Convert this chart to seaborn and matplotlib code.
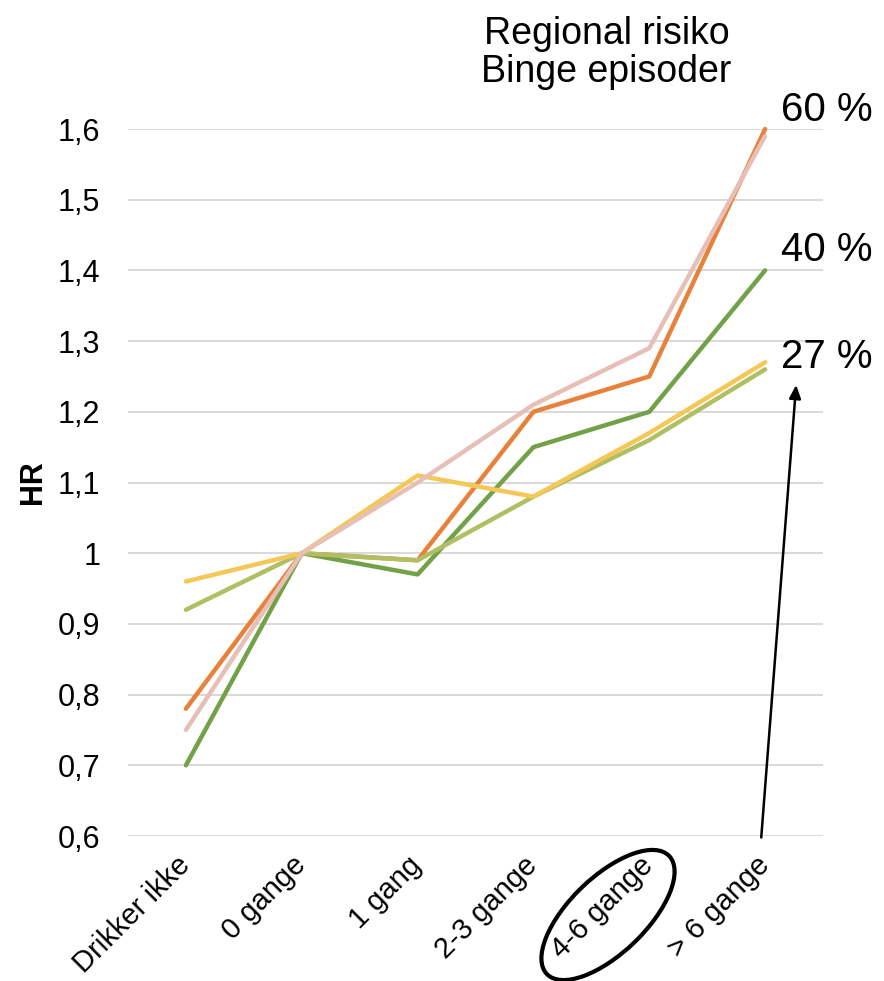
import matplotlib
matplotlib.use('Agg')
import matplotlib.pyplot as plt
import pandas as pd
import seaborn as sns
from matplotlib.patches import Ellipse
from matplotlib.transforms import IdentityTransform

# categories on the x axis
categories = ['Drikker ikke', '0 gange', '1 gang', '2-3 gange', '4-6 gange', '> 6 gange']

# HR values per series
hr_green = [0.70, 1.00, 0.97, 1.15, 1.20, 1.40]
hr_orange = [0.78, 1.00, 0.99, 1.20, 1.25, 1.60]
hr_lightgreen = [0.92, 1.00, 0.99, 1.08, 1.16, 1.26]
hr_yellow = [0.96, 1.00, 1.11, 1.08, 1.17, 1.27]
hr_pink = [0.75, 1.00, 1.10, 1.21, 1.29, 1.59]

series_names = ['Serie A', 'Serie B', 'Serie C', 'Serie D', 'Serie E']
series_values = [hr_green, hr_orange, hr_lightgreen, hr_yellow, hr_pink]
colors = ['#72A147', '#E8823A', '#AFBF62', '#F4C757', '#E6BFB7']

# percent labels at the right end
pct_labels = ['60 %', '40 %', '27 %']
pct_y = [1.627, 1.429, 1.278]

rows = []
for name, vals in zip(series_names, series_values):
    for cat, v in zip(categories, vals):
        rows.append({'kategori': cat, 'HR': v, 'serie': name})
df = pd.DataFrame(rows)

sns.set_style('white')
plt.rcParams['font.family'] = ['Liberation Sans', 'DejaVu Sans']
plt.rcParams['text.color'] = 'black'
plt.rcParams['xtick.color'] = 'black'
plt.rcParams['ytick.color'] = 'black'
plt.rcParams['axes.labelcolor'] = 'black'

fig = plt.figure(figsize=(8.84, 9.81), dpi=100)
ax = fig.add_axes([0.1448, 0.1478, 0.931 - 0.1448, 0.8685 - 0.1478])

sns.lineplot(data=df, x='kategori', y='HR', hue='serie', palette=colors,
             linewidth=3.2, legend=False, ax=ax, sort=False)
for line in ax.lines:
    line.set_clip_on(False)
    line.set_solid_capstyle('round')
    line.set_zorder(3)

ax.set_xlim(-0.5, 5.5)
ax.set_ylim(0.6, 1.6)
ax.set_yticks([0.6, 0.7, 0.8, 0.9, 1.0, 1.1, 1.2, 1.3, 1.4, 1.5, 1.6])
ax.set_yticklabels(['0,6', '0,7', '0,8', '0,9', '1', '1,1', '1,2', '1,3', '1,4', '1,5', '1,6'])
ax.grid(axis='y', color='#D9D9D9', linewidth=1.4)
ax.grid(axis='x', visible=False)
sns.despine(ax=ax, left=True, bottom=True)
ax.tick_params(axis='y', length=0, pad=20, labelsize=22)
ax.tick_params(axis='x', length=0, pad=18, labelsize=21)
for lab in ax.get_xticklabels():
    lab.set_rotation(45)
    lab.set_ha('right')
    lab.set_va('center')
    lab.set_rotation_mode('anchor')

ax.set_xlabel('')
ax.set_ylabel('HR', fontsize=22, fontweight='bold')
ax.yaxis.set_label_coords(-0.115, 0.5)

fig.text(0.686, 0.984, 'Regional risiko\nBinge episoder', ha='center', va='top',
         fontsize=27, linespacing=1.1)

for txt, y in zip(pct_labels, pct_y):
    ax.text(5.14, y, txt, ha='left', va='center', fontsize=29, clip_on=False)

ax.annotate('', xy=(5.27, 1.242), xytext=(4.965, 0.594),
            arrowprops=dict(arrowstyle='-|>,head_length=0.8,head_width=0.35',
                            color='black', linewidth=1.8),
            annotation_clip=False)

# ellipse around the "4-6 gange" label (display pixels)
ell = Ellipse((608, 981 - 915), width=170, height=76, angle=44,
              transform=IdentityTransform(), fill=False, edgecolor='black',
              linewidth=3)
fig.patches.append(ell)

fig.savefig('out.png', dpi=100)
